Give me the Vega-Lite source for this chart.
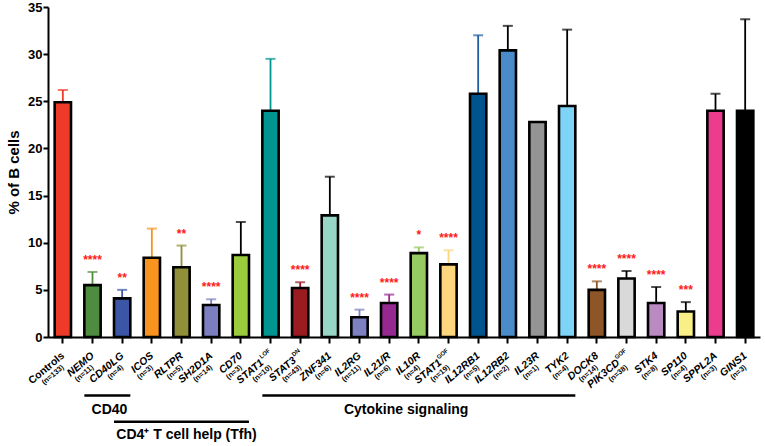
{
  "$schema": "https://vega.github.io/schema/vega-lite/v6.json",
  "width": 712,
  "height": 330,
  "autosize": {"type": "none"},
  "padding": {"left": 48, "top": 7, "right": 5, "bottom": 109},
  "config": {
    "font": "Liberation Sans",
    "view": {"stroke": null},
    "axis": {
      "domainColor": "black",
      "domainWidth": 2,
      "tickColor": "black",
      "tickWidth": 2,
      "labelColor": "black",
      "titleColor": "black",
      "grid": false
    },
    "axisY": {
      "tickSize": 5,
      "labelFontSize": 13,
      "labelFontWeight": "bold",
      "labelPadding": 1,
      "titleFontSize": 15,
      "titleFontWeight": "bold",
      "titlePadding": 6
    },
    "axisX": {"labels": false, "tickSize": 6}
  },
  "datasets": {
    "genes": [
      {"gene": "Controls", "name": "Controls", "sup": "", "n": "(n=133)", "value": 24.9, "upper": 26.2, "sig": ""},
      {"gene": "NEMO", "name": "NEMO", "sup": "", "n": "(n=11)", "value": 5.5, "upper": 6.9, "sig": "****"},
      {"gene": "CD40LG", "name": "CD40LG", "sup": "", "n": "(n=4)", "value": 4.1, "upper": 5.0, "sig": "**"},
      {"gene": "ICOS", "name": "ICOS", "sup": "", "n": "(n=3)", "value": 8.4, "upper": 11.5, "sig": ""},
      {"gene": "RLTPR", "name": "RLTPR", "sup": "", "n": "(n=5)", "value": 7.4, "upper": 9.7, "sig": "**"},
      {"gene": "SH2D1A", "name": "SH2D1A", "sup": "", "n": "(n=14)", "value": 3.4, "upper": 4.0, "sig": "****"},
      {"gene": "CD70", "name": "CD70", "sup": "", "n": "(n=3)", "value": 8.7, "upper": 12.2, "sig": ""},
      {"gene": "STAT1 LOF", "name": "STAT1", "sup": "LOF", "n": "(n=10)", "value": 24.0, "upper": 29.5, "sig": ""},
      {"gene": "STAT3 DN", "name": "STAT3", "sup": "DN", "n": "(n=43)", "value": 5.2, "upper": 5.8, "sig": "****"},
      {"gene": "ZNF341", "name": "ZNF341", "sup": "", "n": "(n=6)", "value": 12.9, "upper": 17.0, "sig": ""},
      {"gene": "IL2RG", "name": "IL2RG", "sup": "", "n": "(n=11)", "value": 2.1, "upper": 2.9, "sig": "****"},
      {"gene": "IL21/R", "name": "IL21/R", "sup": "", "n": "(n=6)", "value": 3.6, "upper": 4.5, "sig": "****"},
      {"gene": "IL10R", "name": "IL10R", "sup": "", "n": "(n=4)", "value": 8.9, "upper": 9.5, "sig": "*"},
      {"gene": "STAT1 GOF", "name": "STAT1", "sup": "GOF", "n": "(n=19)", "value": 7.7, "upper": 9.2, "sig": "****"},
      {"gene": "IL12RB1", "name": "IL12RB1", "sup": "", "n": "(n=5)", "value": 25.8, "upper": 32.0, "sig": ""},
      {"gene": "IL12RB2", "name": "IL12RB2", "sup": "", "n": "(n=2)", "value": 30.4, "upper": 33.0, "sig": ""},
      {"gene": "IL23R", "name": "IL23R", "sup": "", "n": "(n=1)", "value": 22.8, "upper": null, "sig": ""},
      {"gene": "TYK2", "name": "TYK2", "sup": "", "n": "(n=4)", "value": 24.5, "upper": 32.6, "sig": ""},
      {"gene": "DOCK8", "name": "DOCK8", "sup": "", "n": "(n=14)", "value": 5.0, "upper": 5.9, "sig": "****"},
      {"gene": "PIK3CD GOF", "name": "PIK3CD", "sup": "GOF", "n": "(n=38)", "value": 6.2, "upper": 7.0, "sig": "****"},
      {"gene": "STK4", "name": "STK4", "sup": "", "n": "(n=8)", "value": 3.6, "upper": 5.3, "sig": "****"},
      {"gene": "SP110", "name": "SP110", "sup": "", "n": "(n=4)", "value": 2.7, "upper": 3.7, "sig": "***"},
      {"gene": "SPPL2A", "name": "SPPL2A", "sup": "", "n": "(n=3)", "value": 24.0, "upper": 25.8, "sig": ""},
      {"gene": "GINS1", "name": "GINS1", "sup": "", "n": "(n=3)", "value": 24.0, "upper": 33.7, "sig": ""}
    ],
    "groups": [
      {"label": "CD40", "first": "NEMO", "last": "CD40LG", "tier": 1},
      {"label": "CD4⁺ T cell help (Tfh)", "first": "CD40LG", "last": "CD70", "tier": 2},
      {"label": "Cytokine signaling", "first": "STAT1 LOF", "last": "TYK2", "tier": 1}
    ]
  },
  "data": {"name": "genes"},
  "encoding": {
    "x": {
      "field": "gene",
      "type": "nominal",
      "title": null,
      "scale": {
        "domain": ["Controls", "NEMO", "CD40LG", "ICOS", "RLTPR", "SH2D1A", "CD70", "STAT1 LOF", "STAT3 DN", "ZNF341", "IL2RG", "IL21/R", "IL10R", "STAT1 GOF", "IL12RB1", "IL12RB2", "IL23R", "TYK2", "DOCK8", "PIK3CD GOF", "STK4", "SP110", "SPPL2A", "GINS1"],
        "paddingInner": 0.45,
        "paddingOuter": 0.225
      }
    }
  },
  "layer": [
    {
      "transform": [{"filter": "datum.upper != null"}],
      "encoding": {
        "color": {
          "field": "gene",
          "type": "nominal",
          "legend": null,
          "scale": {
            "domain": ["Controls", "NEMO", "CD40LG", "ICOS", "RLTPR", "SH2D1A", "CD70", "STAT1 LOF", "STAT3 DN", "ZNF341", "IL2RG", "IL21/R", "IL10R", "STAT1 GOF", "IL12RB1", "IL12RB2", "IL23R", "TYK2", "DOCK8", "PIK3CD GOF", "STK4", "SP110", "SPPL2A", "GINS1"],
            "range": ["#ee3a28", "#4e8d3f", "#3b56a6", "#f7931e", "#918f38", "#7b7fbf", "#000000", "#009590", "#9a1c20", "#000000", "#7d81c1", "#952891", "#96cb63", "#fdd67e", "#1f5fa0", "#000000", "#000000", "#000000", "#8e5526", "#000000", "#000000", "#000000", "#000000", "#000000"]
          }
        }
      },
      "layer": [
        {
          "mark": {"type": "rule", "strokeWidth": 1.8},
          "encoding": {
            "y": {"field": "value", "type": "quantitative", "title": "% of B cells", "scale": {"domain": [0, 35], "nice": false}},
            "y2": {"field": "upper"}
          }
        },
        {
          "mark": {"type": "tick", "size": 10, "thickness": 2},
          "encoding": {
            "y": {"field": "upper", "type": "quantitative", "title": "% of B cells"}
          }
        }
      ]
    },
    {
      "mark": {"type": "bar", "stroke": "black", "strokeWidth": 2.6},
      "encoding": {
        "y": {
          "field": "value",
          "type": "quantitative",
          "title": "% of B cells",
          "scale": {"domain": [0, 35], "nice": false},
          "axis": {"values": [0, 5, 10, 15, 20, 25, 30, 35]}
        },
        "color": {
          "field": "gene",
          "type": "nominal",
          "legend": null,
          "scale": {
            "domain": ["Controls", "NEMO", "CD40LG", "ICOS", "RLTPR", "SH2D1A", "CD70", "STAT1 LOF", "STAT3 DN", "ZNF341", "IL2RG", "IL21/R", "IL10R", "STAT1 GOF", "IL12RB1", "IL12RB2", "IL23R", "TYK2", "DOCK8", "PIK3CD GOF", "STK4", "SP110", "SPPL2A", "GINS1"],
            "range": ["#ee3a28", "#4e8d3f", "#3b56a6", "#f7931e", "#918f38", "#7b7fbf", "#9bcb3c", "#009590", "#9a1c20", "#97d6c4", "#7d81c1", "#952891", "#96cb63", "#fdd67e", "#00548e", "#4a8cca", "#949494", "#7ed4f6", "#8e5526", "#d9d9d9", "#b98bc1", "#f8f086", "#ec3c8d", "#000000"]
          }
        }
      }
    },
    {
      "transform": [{"filter": "datum.sig != ''"}],
      "mark": {"type": "text", "color": "#ff1a1a", "fontSize": 12, "fontWeight": "bold", "baseline": "alphabetic", "dy": -8},
      "encoding": {
        "y": {"field": "upper", "type": "quantitative", "title": "% of B cells"},
        "text": {"field": "sig"}
      }
    },
    {
      "transform": [{"filter": "datum.gene == 'Controls'"}],
      "mark": {"type": "text", "angle": -40, "align": "right", "baseline": "middle", "dx": -11, "dy": 13.6, "fontSize": 10.5, "fontWeight": "bold", "color": "black"},
      "encoding": {"y": {"datum": 0}, "text": {"field": "name"}}
    },
    {
      "transform": [{"filter": "datum.gene != 'Controls' && datum.sup == ''"}],
      "mark": {"type": "text", "angle": -40, "align": "right", "baseline": "middle", "dx": -11, "dy": 13.6, "fontSize": 10.5, "fontWeight": "bold", "fontStyle": "italic", "color": "black"},
      "encoding": {"y": {"datum": 0}, "text": {"field": "name"}}
    },
    {
      "transform": [{"filter": "datum.sup == 'DN'"}],
      "mark": {"type": "text", "angle": -40, "align": "right", "baseline": "middle", "dx": -18.5, "dy": 13.6, "fontSize": 10.5, "fontWeight": "bold", "fontStyle": "italic", "color": "black"},
      "encoding": {"y": {"datum": 0}, "text": {"field": "name"}}
    },
    {
      "transform": [{"filter": "datum.sup == 'LOF' || datum.sup == 'GOF'"}],
      "mark": {"type": "text", "angle": -40, "align": "right", "baseline": "middle", "dx": -22, "dy": 13.6, "fontSize": 10.5, "fontWeight": "bold", "fontStyle": "italic", "color": "black"},
      "encoding": {"y": {"datum": 0}, "text": {"field": "name"}}
    },
    {
      "transform": [{"filter": "datum.sup != ''"}],
      "mark": {"type": "text", "angle": -40, "align": "right", "baseline": "middle", "dx": -9, "dy": 9, "fontSize": 6, "fontWeight": "bold", "color": "black"},
      "encoding": {"y": {"datum": 0}, "text": {"field": "sup"}}
    },
    {
      "mark": {"type": "text", "angle": -40, "align": "right", "baseline": "middle", "dx": -18.7, "dy": 22.8, "fontSize": 7.5, "fontWeight": "bold", "color": "black"},
      "encoding": {"y": {"datum": 0}, "text": {"field": "n"}}
    },
    {
      "data": {"name": "groups"},
      "transform": [{"filter": "datum.tier == 1"}],
      "mark": {"type": "rule", "strokeWidth": 2.5, "color": "black"},
      "encoding": {
        "x": {"field": "first", "type": "nominal", "title": null, "bandPosition": 0},
        "x2": {"field": "last", "bandPosition": 1},
        "y": {"datum": -6.2}
      }
    },
    {
      "data": {"name": "groups"},
      "transform": [{"filter": "datum.tier == 2"}],
      "mark": {"type": "rule", "strokeWidth": 2.5, "color": "black"},
      "encoding": {
        "x": {"field": "first", "type": "nominal", "title": null, "bandPosition": 0},
        "x2": {"field": "last", "bandPosition": 1},
        "y": {"datum": -9.0}
      }
    },
    {
      "data": {"name": "groups"},
      "transform": [{"filter": "datum.label == 'CD40'"}],
      "mark": {"type": "text", "fontSize": 14, "fontWeight": "bold", "color": "black", "baseline": "middle", "dx": 17},
      "encoding": {
        "x": {"datum": "NEMO"},
        "y": {"datum": -7.7},
        "text": {"field": "label"}
      }
    },
    {
      "data": {"name": "groups"},
      "transform": [{"filter": "datum.label == 'Cytokine signaling'"}],
      "mark": {"type": "text", "fontSize": 14, "fontWeight": "bold", "color": "black", "baseline": "middle", "dx": 17},
      "encoding": {
        "x": {"datum": "IL21/R"},
        "y": {"datum": -7.7},
        "text": {"field": "label"}
      }
    },
    {
      "data": {"name": "groups"},
      "transform": [{"filter": "datum.tier == 2"}],
      "mark": {"type": "text", "fontSize": 14, "fontWeight": "bold", "color": "black", "baseline": "middle", "dx": 5},
      "encoding": {
        "x": {"datum": "RLTPR"},
        "y": {"datum": -10.4},
        "text": {"field": "label"}
      }
    }
  ],
  "resolve": {"scale": {"color": "independent"}}
}
